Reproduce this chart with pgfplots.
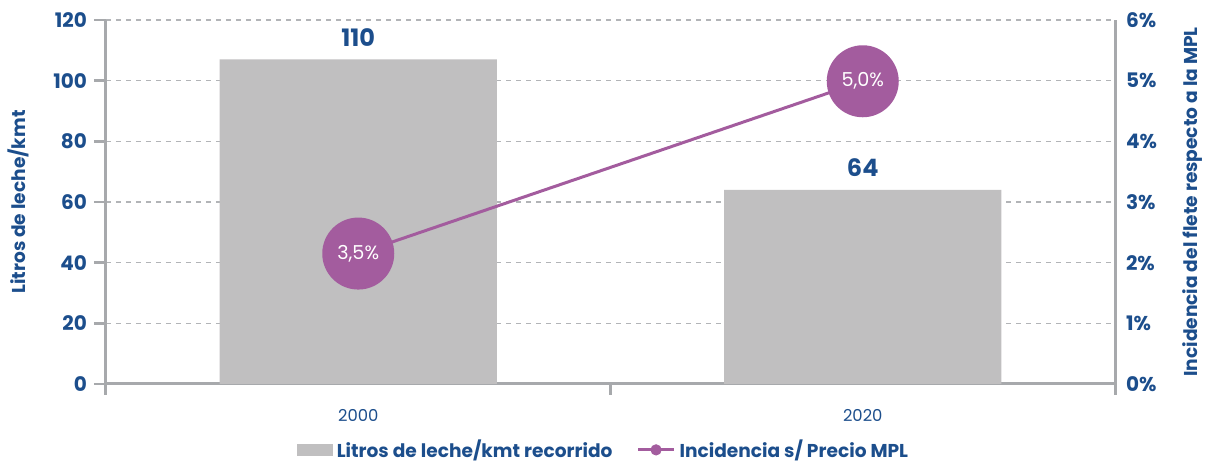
\documentclass[border=0pt]{standalone}
\usepackage{fontspec}
\setmainfont{Poppins}
\usepackage{pgfplots}
\pgfplotsset{compat=1.18}
\definecolor{tblue}{RGB}{28,78,140}
\definecolor{mpurple}{RGB}{163,92,158}
\definecolor{bgrey}{RGB}{192,191,192}
\definecolor{agrey}{RGB}{167,169,172}
\definecolor{ggrey}{RGB}{178,180,183}
\begin{document}
\begin{tikzpicture}
\useasboundingbox (-53pt,-40pt) rectangle (552pt,192pt);
\begin{axis}[
  scale only axis,
  width=504.5pt, height=182pt,
  xmin=0, xmax=2, ymin=0, ymax=120,
  clip=false,
  axis x line*=bottom, axis y line*=left,
  axis line style={agrey, line width=1.5pt, -},
  /pgf/number format/assume math mode=true,
  xtick={0.5,1.5}, xticklabels={2000,2020},
  minor xtick={0,1,2},
  ytick={0,20,...,120},
  tick align=outside,
  major tick length=6pt, minor tick length=5.5pt,
  xtick style={draw=none},
  minor x tick style={draw=agrey, line width=1.5pt},
  ytick style={draw=agrey, line width=1.2pt},
  ymajorgrids,
  grid style={ggrey, line width=0.8pt, dash pattern=on 2.5pt off 2.5pt},
  yticklabel style={font=\bfseries\fontsize{10}{12}\selectfont, text=tblue},
  xticklabel style={font=\fontsize{8.2}{10}\selectfont, text=tblue, yshift=-3pt},
  ylabel={Litros de leche/kmt},
  ylabel style={at={(axis description cs:-0.087,0.5)}, anchor=center, font=\bfseries\fontsize{9.3}{11}\selectfont, text=tblue},
  legend style={at={(axis description cs:0.494,-0.181)}, anchor=center, draw=none, fill=none,
    font=\bfseries\fontsize{9.3}{11}\selectfont, text=tblue, legend columns=2,
    /tikz/every even column/.append style={column sep=10pt}},
]
\addplot[ybar, bar width=0.55, fill=bgrey, draw=none,
  point meta=explicit symbolic, nodes near coords,
  nodes near coords style={font=\bfseries\fontsize{12}{14}\selectfont, text=tblue, anchor=south, yshift=3pt},
  legend image code/.code={\fill[bgrey] (0pt,-3pt) rectangle (18pt,3pt);}]
  coordinates {(0.5,107) [110] (1.5,64) [64]};
\addlegendentry{Litros de leche/kmt recorrido}
\addlegendimage{legend image code/.code={\draw[mpurple, line width=1.5pt] (0pt,0pt) -- (18pt,0pt); \fill[mpurple] (9pt,0pt) circle (2.6pt);}}
\addlegendentry{Incidencia s/ Precio MPL}
\end{axis}
\begin{axis}[
  scale only axis,
  width=504.5pt, height=182pt,
  xmin=0, xmax=2, ymin=0, ymax=6,
  clip=false,
  axis x line=none, axis y line*=right,
  axis line style={agrey, line width=1.5pt, -},
  /pgf/number format/assume math mode=true,
  ytick={0,1,...,6},
  yticklabel={\pgfmathprintnumber{\tick}\%},
  major tick length=0pt,
  yticklabel style={font=\bfseries\fontsize{10}{12}\selectfont, text=tblue, anchor=west, xshift=2pt},
  ylabel={Incidencia del flete respecto a la MPL},
  ylabel style={at={(axis description cs:1.0773,0.5)}, anchor=center, rotate=0, font=\bfseries\fontsize{9.3}{11}\selectfont, text=tblue},
]
\addplot[mpurple, line width=1.5pt, mark=*, mark size=17.25pt,
  mark options={fill=mpurple, draw=none},
  point meta=explicit symbolic, nodes near coords,
  nodes near coords style={anchor=center, text=white, font=\fontsize{9.6}{11}\selectfont}]
  coordinates {(0.5,2.15) [3,5\%] (1.5,4.99) [5,0\%]};
\end{axis}
\end{tikzpicture}
\end{document}
